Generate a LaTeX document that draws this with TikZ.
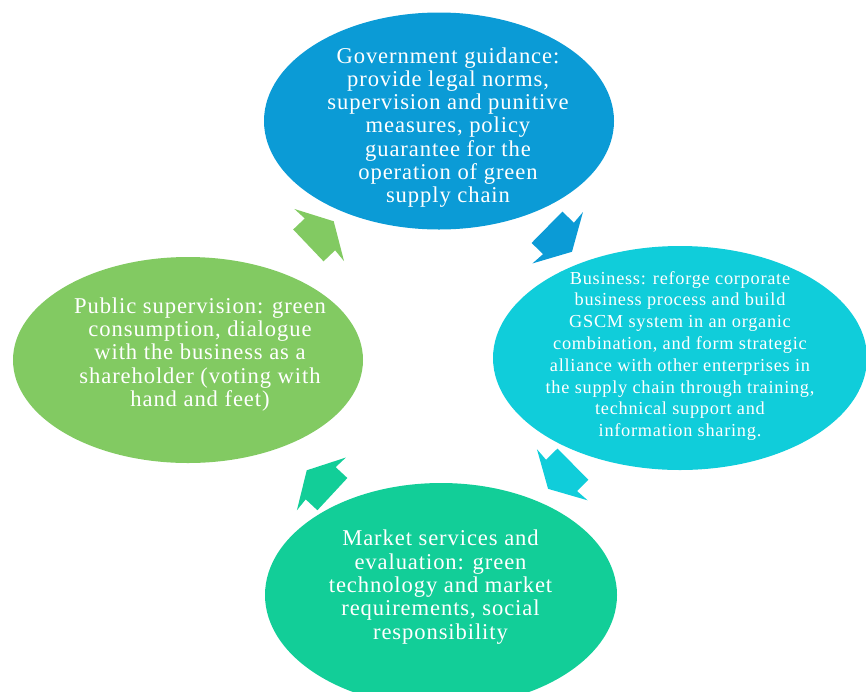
\documentclass[tikz,border=0pt]{standalone}
\usepackage{fontspec}
\setmainfont{Liberation Serif}[LetterSpace=4]
\usetikzlibrary{shapes.geometric}
\definecolor{govblue}{RGB}{11,155,214}
\definecolor{buscyan}{RGB}{16,205,218}
\definecolor{pubgreen}{RGB}{130,202,98}
\definecolor{mktteal}{RGB}{18,206,152}

\begin{document}
\begin{tikzpicture}[x=1pt,y=1pt,
						bubble/.style={ellipse, inner sep=0pt},
						bubbletext/.style={text=white, align=center, font=\fontsize{22.6}{23.3}\selectfont},
						cyclearrow/.pic={\fill[pic actions] (-17.5,-22) -- (-1.5,-22) -- (-2.5,-36) -- (17.5,0) -- (-2.5,36) -- (-1.5,22) -- (-17.5,22) -- cycle;},
						]
						\useasboundingbox (0,0) rectangle (866,-691);
						\clip (0,0) rectangle (866,-691);
						%Ellipses
						\node[bubble, fill=govblue, minimum width=350pt, minimum height=217pt]	(gov)	at	(439,-121)	{};
						\node[bubble, fill=buscyan, minimum width=374pt, minimum height=224pt]	(bus)	at	(680,-358)	{};
						\node[bubble, fill=mktteal, minimum width=352pt, minimum height=224pt]	(mkt)	at	(441,-595)	{};
						\node[bubble, fill=pubgreen, minimum width=350pt, minimum height=206pt]	(pub)	at	(188,-360)	{};
						%Texts
						\node[bubbletext]	(govtext)	at	(448,-127.5)	{Government guidance:\\provide legal norms,\\supervision and punitive\\measures, policy\\guarantee for the\\operation of green\\supply chain};
						\node[bubbletext, font=\fontsize{18.3}{21.8}\selectfont]	(bustext)	at	(680,-356)	{Business: reforge corporate\\business process and build\\GSCM system in an organic\\combination, and form strategic\\alliance with other enterprises in\\the supply chain through training,\\technical support and\\information sharing.};
						\node[bubbletext]	(mkttext)	at	(440.5,-587)	{Market services and\\evaluation: green\\technology and market\\requirements, social\\responsibility};
						\node[bubbletext]	(pubtext)	at	(200,-354.5)	{Public supervision: green\\consumption, dialogue\\with the business as a\\shareholder (voting with\\hand and feet)};
						%Arrows
						\path (pub.center) -- (gov.center) pic[pos=0.53, sloped, allow upside down, fill=pubgreen] {cyclearrow};
						\path (gov.center) -- (bus.center) pic[pos=0.5, sloped, allow upside down, fill=govblue] {cyclearrow};
						\path (bus.center) -- (mkt.center) pic[pos=0.5, sloped, allow upside down, fill=buscyan] {cyclearrow};
						\path (mkt.center) -- (pub.center) pic[pos=0.48, sloped, allow upside down, fill=mktteal] {cyclearrow};
					\end{tikzpicture}
\end{document}
